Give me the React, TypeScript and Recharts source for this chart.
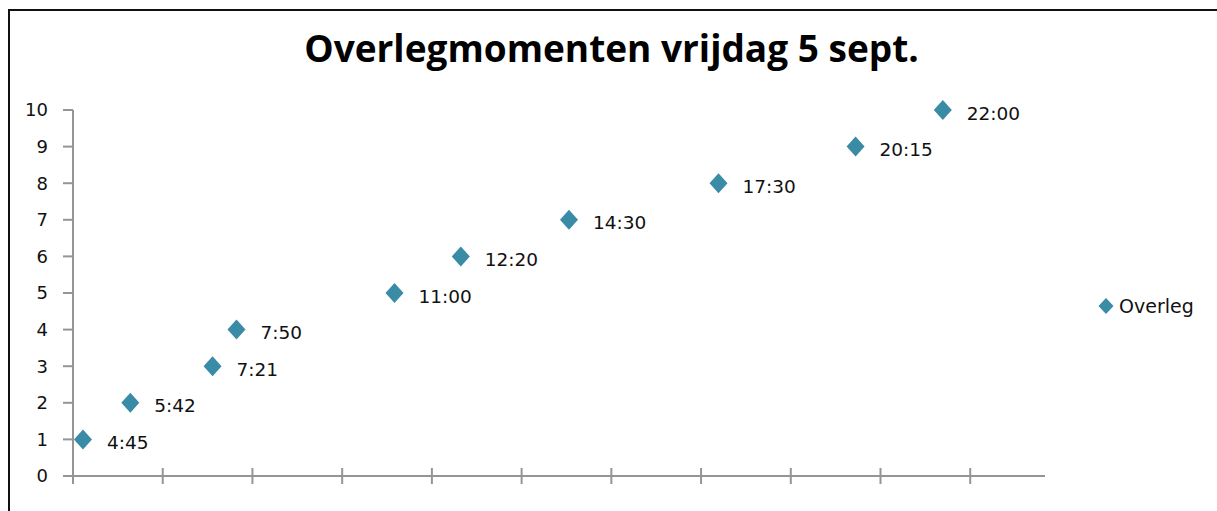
import React from 'react';
import {
  ScatterChart,
  Scatter,
  XAxis,
  YAxis,
  LabelList,
  Legend,
} from 'recharts';

// overleg momenten: tijdstip (uur) en volgnummer
const hours = [4.75, 5.7, 7.35, 7.83, 11, 12.33, 14.5, 17.5, 20.25, 22];
const counts = [1, 2, 3, 4, 5, 6, 7, 8, 9, 10];
const timeLabels = ['4:45', '5:42', '7:21', '7:50', '11:00', '12:20', '14:30', '17:30', '20:15', '22:00'];

const xTicks = [4.55, 6.35, 8.15, 9.95, 11.75, 13.55, 15.35, 17.15, 18.95, 20.75, 22.55];
const yTicks = [0, 1, 2, 3, 4, 5, 6, 7, 8, 9, 10];

const data = hours.map((h, i) => ({ hour: h, count: counts[i], label: timeLabels[i] }));

const MARKER = '#3A8BA6';
const AXIS = '#959595';
const FONT = '"DejaVu Sans", Verdana, sans-serif';

const Diamond = (props: any) => {
  const { cx, cy } = props;
  if (cx == null || cy == null) return null;
  return (
    <polygon
      points={`${cx},${cy - 10} ${cx + 9},${cy} ${cx},${cy + 10} ${cx - 9},${cy}`}
      fill={MARKER}
    />
  );
};

const CrossTick = (props: any) => {
  const { x, y } = props;
  return <line x1={x} x2={x} y1={y - 8} y2={y + 8} stroke={AXIS} strokeWidth={2} />;
};

const PointLabel = (props: any) => {
  const { x, y, width, height, value } = props;
  const cx = x + (width || 0) / 2;
  const cy = y + (height || 0) / 2;
  return (
    <text x={cx + 24} y={cy + 3} dominantBaseline="central" fontSize={18.5} fontFamily={FONT} fill="#111">
      {value}
    </text>
  );
};

const LegendBox = () => (
  <div style={{ display: 'flex', alignItems: 'center', fontFamily: FONT, fontSize: 19, color: '#111' }}>
    <svg width={16} height={18}>
      <polygon points="8,1 15.5,9 8,17 0.5,9" fill={MARKER} />
    </svg>
    <span style={{ marginLeft: 5 }}>Overleg</span>
  </div>
);

export default function App() {
  return (
    <div style={{ position: 'absolute', left: 0, top: 0, width: 1217, height: 511, background: '#fff', overflow: 'hidden' }}>
      <div
        style={{
          position: 'absolute',
          left: 8,
          top: 9,
          width: 1300,
          height: 600,
          borderLeft: '2px solid #111',
          borderTop: '2px solid #111',
        }}
      />
      <div
        style={{
          position: 'absolute',
          left: 0,
          top: 29,
          width: 1223,
          textAlign: 'center',
          fontFamily: '"Open Sans", sans-serif',
          fontWeight: 700,
          fontSize: 37,
          lineHeight: '37px',
          color: '#000',
        }}
      >
        Overlegmomenten vrijdag 5 sept.
      </div>
      <div style={{ position: 'absolute', left: 0, top: 0 }}>
        <ScatterChart width={1217} height={511} margin={{ top: 110, right: 62, bottom: 0, left: 0 }}>
          <XAxis
            type="number"
            dataKey="hour"
            domain={[4.55, 24.05]}
            ticks={xTicks}
            interval={0}
            allowDataOverflow
            height={35}
            stroke={AXIS}
            strokeWidth={2}
            tickLine={false}
            tickSize={0}
            tickMargin={0}
            tick={<CrossTick />}
          />
          <YAxis
            type="number"
            dataKey="count"
            domain={[0, 10]}
            ticks={yTicks}
            interval={0}
            width={73}
            stroke={AXIS}
            strokeWidth={2}
            tickSize={10}
            tickMargin={15}
            tickLine={{ stroke: AXIS, strokeWidth: 2 }}
            tick={{ fill: '#111', fontSize: 18, fontFamily: FONT }}
          />
          <Legend
            layout="vertical"
            align="right"
            verticalAlign="middle"
            content={<LegendBox />}
            wrapperStyle={{ left: 1098, top: 295, width: 110 }}
          />
          <Scatter name="Overleg" data={data} shape={<Diamond />} isAnimationActive={false}>
            <LabelList dataKey="label" content={<PointLabel />} />
          </Scatter>
        </ScatterChart>
      </div>
    </div>
  );
}
